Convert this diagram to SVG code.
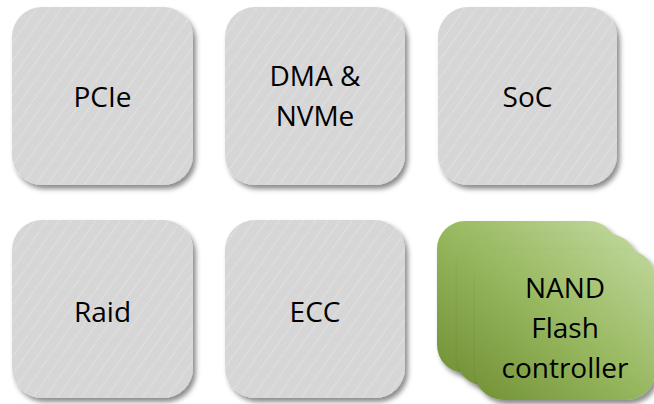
<svg xmlns="http://www.w3.org/2000/svg" width="654" height="404" viewBox="0 0 654 404">
  <defs>
    <pattern id="stripes" width="10" height="10" patternUnits="userSpaceOnUse" patternTransform="rotate(35)">
      <rect width="10" height="10" fill="#d6d6d6"/>
      <line x1="5" y1="0" x2="5" y2="10" stroke="#e9e9e9" stroke-width="1" stroke-dasharray="2 1.3"/>
    </pattern>
    <linearGradient id="green" x1="0" y1="1" x2="1" y2="0">
      <stop offset="0" stop-color="#739236"/>
      <stop offset="0.5" stop-color="#98b860"/>
      <stop offset="1" stop-color="#bfd79a"/>
    </linearGradient>
    <filter id="shadow" x="-10%" y="-10%" width="125%" height="125%">
      <feDropShadow dx="3" dy="4" stdDeviation="2.5" flood-color="#000" flood-opacity="0.45"/>
    </filter>
  </defs>
  <style>
    .box { fill: url(#stripes); filter: url(#shadow); }
    .gbox { fill: url(#green); filter: url(#shadow); }
    .label { font-family: "Open Sans", "Liberation Sans", sans-serif; font-size: 28px; fill: #000; text-anchor: middle; }
  </style>

  <g id="pcie">
    <rect class="box" x="12" y="7" width="181" height="178" rx="30"/>
    <text class="label" x="102.5" y="107">PCIe</text>
  </g>
  <g id="dma-nvme">
    <rect class="box" x="225" y="7" width="180" height="178" rx="30"/>
    <text class="label" x="315" y="86">DMA &amp;</text>
    <text class="label" x="315" y="126">NVMe</text>
  </g>
  <g id="soc">
    <rect class="box" x="438" y="7" width="179" height="178" rx="30"/>
    <text class="label" x="527.5" y="107">SoC</text>
  </g>
  <g id="raid">
    <rect class="box" x="12" y="220" width="181" height="178" rx="30"/>
    <text class="label" x="102.5" y="322">Raid</text>
  </g>
  <g id="ecc">
    <rect class="box" x="225" y="220" width="180" height="178" rx="30"/>
    <text class="label" x="315" y="322">ECC</text>
  </g>
  <g id="nand-flash-controller">
    <rect class="gbox" x="437" y="221" width="180" height="152" rx="28"/>
    <rect class="gbox" x="457" y="234" width="180" height="152" rx="28"/>
    <rect class="gbox" x="475" y="250" width="180" height="150" rx="28"/>
    <text class="label" x="565" y="298">NAND</text>
    <text class="label" x="565" y="338">Flash</text>
    <text class="label" x="565" y="378">controller</text>
  </g>
  <g id="connectors"/>
</svg>
